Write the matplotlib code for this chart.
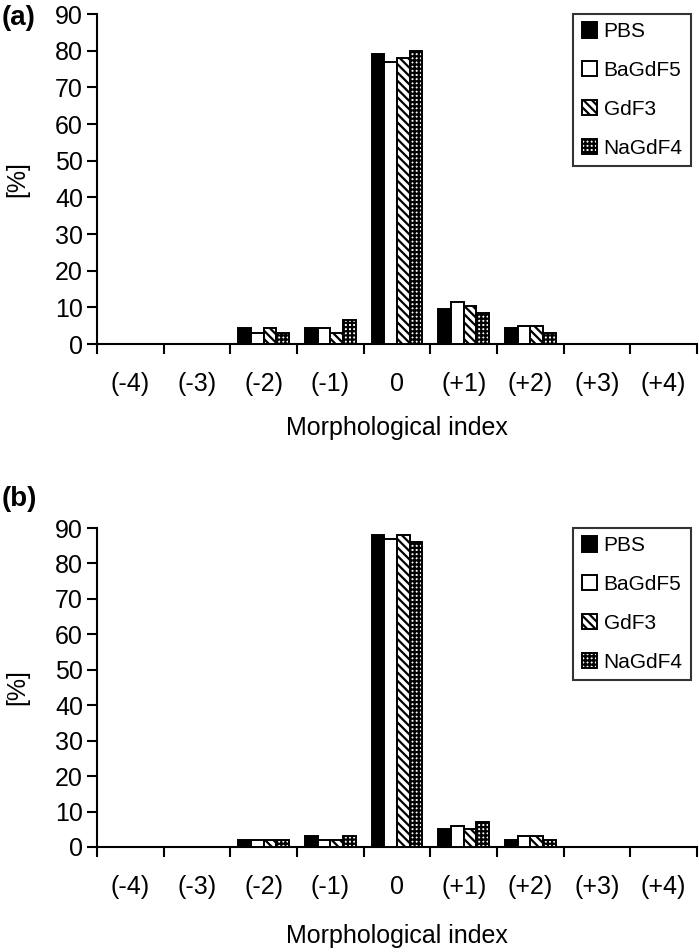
import matplotlib
matplotlib.use("Agg")
import matplotlib.pyplot as plt
import numpy as np

plt.rcParams['font.family'] = ['Liberation Sans', 'DejaVu Sans']
plt.rcParams['hatch.linewidth'] = 1.6

categories = ["(-4)", "(-3)", "(-2)", "(-1)", "0", "(+1)", "(+2)", "(+3)", "(+4)"]
series_names = ["PBS", "BaGdF5", "GdF3", "NaGdF4"]

a_pbs = [0, 0, 4.5, 4.5, 79, 9.5, 4.5, 0, 0]
a_bagdf5 = [0, 0, 3, 4.5, 77, 11.5, 5, 0, 0]
a_gdf3 = [0, 0, 4.5, 3, 78, 10.5, 5, 0, 0]
a_nagdf4 = [0, 0, 3, 6.5, 80, 8.5, 3, 0, 0]

b_pbs = [0, 0, 2, 3, 88, 5, 2, 0, 0]
b_bagdf5 = [0, 0, 2, 2, 87, 6, 3, 0, 0]
b_gdf3 = [0, 0, 2, 2, 88, 5, 3, 0, 0]
b_nagdf4 = [0, 0, 2, 3, 86, 7, 2, 0, 0]

yticks = list(range(0, 91, 10))

styles = [
    dict(facecolor="black", hatch=None),
    dict(facecolor="white", hatch=None),
    dict(facecolor="white", hatch="\\\\\\\\"),
    dict(facecolor="white", hatch="++++"),
]

W, H = 699, 952
LEFT, RIGHT = 97, 697
fig = plt.figure(figsize=(W / 100, H / 100), dpi=100)

def make_ax(top_px, bottom_px):
    return fig.add_axes([LEFT / W, 1 - bottom_px / H, (RIGHT - LEFT) / W, (bottom_px - top_px) / H])

def draw(ax, data, panel, top_px, bottom_px, xlabel_px, panel_px):
    hpx = bottom_px - top_px
    wpx = RIGHT - LEFT
    x = np.arange(len(categories))
    bw = 0.19
    for i, (vals, st) in enumerate(zip(data, styles)):
        ax.bar(x + (i - 1.5) * bw, vals, width=bw, facecolor=st["facecolor"],
               edgecolor="black", linewidth=1.4, hatch=st["hatch"],
               label=series_names[i], zorder=3)
    ax.set_xlim(-0.5, len(categories) - 0.5)
    ax.set_ylim(0, 90)
    ax.set_yticks(yticks)
    ax.set_yticklabels([str(t) for t in yticks], fontsize=18)
    ax.set_xticks(x)
    ax.set_xticklabels(categories, fontsize=18)
    ax.set_xticks(np.arange(-0.5, len(categories), 1), minor=True)
    ax.tick_params(axis="x", which="major", length=0, pad=20)
    ax.tick_params(axis="x", which="minor", length=7, width=1.5, direction="out")
    ax.tick_params(axis="y", length=7, width=1.5, direction="out", pad=3)
    for s in ["top", "right"]:
        ax.spines[s].set_visible(False)
    for s in ["left", "bottom"]:
        ax.spines[s].set_linewidth(1.5)
    ax.set_ylabel("[%]", fontsize=18, va="center")
    ax.yaxis.set_label_coords((17 - LEFT) / wpx, 0.5)
    ax.set_xlabel("Morphological index", fontsize=18, va="center")
    ax.xaxis.set_label_coords(0.5, (bottom_px - xlabel_px) / hpx)
    leg = ax.legend(loc="upper right", bbox_to_anchor=(0.99, 1.0), fontsize=15,
                    frameon=True, fancybox=False, edgecolor="black",
                    handlelength=0.75, handleheight=0.75, handletextpad=0.3,
                    labelspacing=0.95, borderpad=0.4, borderaxespad=0.0)
    leg.get_frame().set_linewidth(1.5)
    ax.text(-LEFT / wpx + 0.002, (bottom_px - panel_px) / hpx, panel, transform=ax.transAxes,
            fontsize=20, fontweight="bold", ha="left", va="center")

ax1 = make_ax(14, 344)
draw(ax1, [a_pbs, a_bagdf5, a_gdf3, a_nagdf4], "(a)", 14, 344, 428, 18)
ax2 = make_ax(528, 847)
draw(ax2, [b_pbs, b_bagdf5, b_gdf3, b_nagdf4], "(b)", 528, 847, 936, 499)

fig.savefig("out.png", dpi=100)
